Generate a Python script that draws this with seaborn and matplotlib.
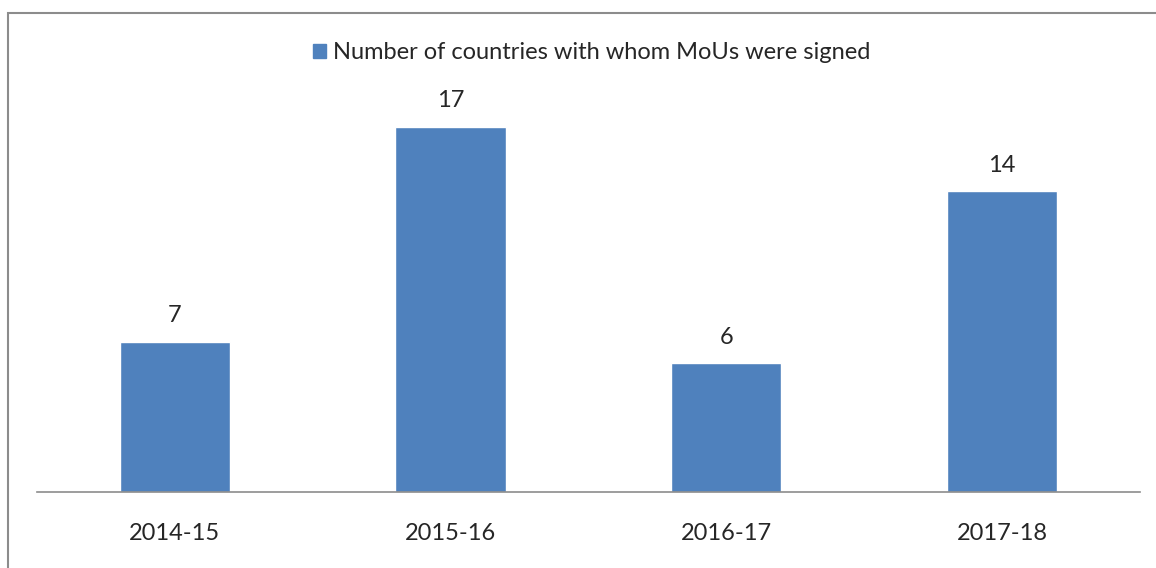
import matplotlib.pyplot as plt
import matplotlib.patches as mpatches
import pandas as pd
import seaborn as sns

# data
years = ['2014-15', '2015-16', '2016-17', '2017-18']
mous = [7, 17, 6, 14]
series_name = 'Number of countries with whom MoUs were signed'

df = pd.DataFrame({'year': years, 'count': mous})

sns.set_style('white')
plt.rcParams['font.family'] = ['Lato', 'DejaVu Sans']

fig = plt.figure(figsize=(11.56, 5.68), dpi=100)
ax = fig.add_axes([0.032, 0.1338, 0.954, 0.757])

bar_color = '#4F81BD'
sns.barplot(data=df, x='year', y='count', color=bar_color, width=0.4,
            saturation=1, ax=ax)

for i, v in enumerate(mous):
    ax.text(i, v + 0.7, str(v), ha='center', va='bottom',
            fontsize=17, color='#262626')

ax.set_ylim(0, 20)
ax.set_xlim(-0.5, 3.5)
ax.set_xlabel('')
ax.set_ylabel('')
ax.set_yticks([])
ax.tick_params(axis='x', length=0, labelsize=17, colors='#262626', pad=22)
for s in ['top', 'right', 'left']:
    ax.spines[s].set_visible(False)
ax.spines['bottom'].set_color('#8c8c8c')
ax.spines['bottom'].set_linewidth(1.2)

# legend
handle = mpatches.Patch(color=bar_color, label=series_name)
fig.legend(handles=[handle], loc='center', bbox_to_anchor=(0.512, 0.907),
           frameon=False, fontsize=17, handlelength=0.55, handleheight=0.55,
           handletextpad=0.3, labelcolor='#262626')

# outer chart border
border = mpatches.Rectangle((8 / 1156, -0.05), 1.1, 1 - 13 / 568 + 0.05,
                            transform=fig.transFigure, fill=False,
                            edgecolor='#8c8c8c', linewidth=1.5)
fig.patches.append(border)

fig.savefig('out.png', dpi=100)
